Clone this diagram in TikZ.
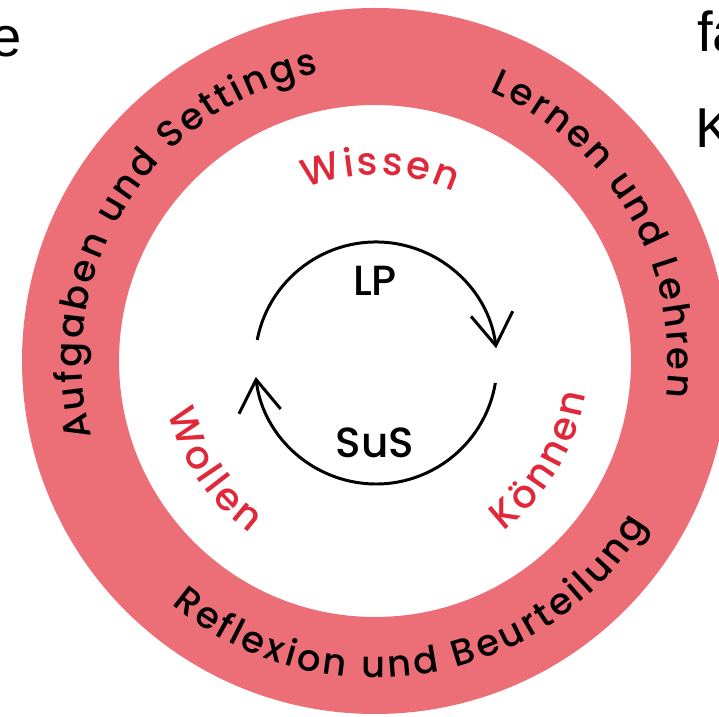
\documentclass[tikz,border=0pt]{standalone}
\usepackage{fontspec}
\setmainfont{Poppins}[UprightFont={* Medium}]
\newfontfamily\pagefont{Liberation Sans}
\usepackage{xcolor}
\usepackage{tikz}
\usetikzlibrary{arrows.meta, decorations.text, calc}
\definecolor{ringred}{RGB}{236,110,118}
\definecolor{wordred}{RGB}{225,40,58}
\newcommand{\ringfont}{\fontsize{21}{21}\selectfont}
\newcommand{\wordfont}{\fontsize{22}{22}\selectfont}

\begin{document}
\begin{tikzpicture}[
    x=0.02cm, y=0.02cm,
    ringtext/.style={decorate, decoration={text along path, text align={fit to path}, text={|\ringfont|#1}}},
    wordtext/.style={decorate, decoration={text along path, text align={fit to path}, text color=wordred, text={|\wordfont|#1}}},
    cyclearrow/.style={line width=1.7pt, -{Straight Barb[length=0.64cm, width=0.84cm, line width=1.7pt]}},
    cyclelabel/.style={font=\fontsize{24}{24}\selectfont, inner sep=0pt},
    pagetext/.style={font=\pagefont\fontsize{32}{32}\selectfont, inner sep=0pt}
]
\useasboundingbox (0,0) rectangle (719,716);
\clip (0,0) rectangle (719,716);

\coordinate (c) at (375,355);
\coordinate (cyc) at (376,353);

% Ring
\fill[ringred, even odd rule] (c) circle[radius=353] (c) circle[radius=256];

% Texts on the ring
\path[ringtext={Aufgaben und Settings}] ($(c)+(195:293)$) arc[start angle=195, end angle=101, radius=293];
\path[ringtext={Lernen und Lehren}] ($(c)+(67:293)$) arc[start angle=67, end angle=-7, radius=293];
\path[ringtext={Reflexion und Beurteilung}] ($(c)+(230:317)$) arc[start angle=230, end angle=329, radius=317];

% Inner words
\path[wordtext={Wissen}] ($(c)+(112:186)$) arc[start angle=112, end angle=65, radius=186];
\path[wordtext={Wollen}] ($(c)+(194:213)$) arc[start angle=194, end angle=234, radius=213];
\path[wordtext={Können}] ($(c)+(-53:213)$) arc[start angle=-53, end angle=-9, radius=213];

% Cycle
\coordinate (lpstart) at ($(cyc)+(169:121)$);
\coordinate (susstart) at ($(cyc)+(-9.5:121)$);
\draw[cyclearrow] (lpstart) arc[start angle=169, end angle=7, radius=121];
\draw[cyclearrow] (susstart) arc[start angle=-9.5, end angle=-173.4, radius=121];
\node[cyclelabel] (lp) at ($(cyc)+(-1,82)$) {LP};
\node[cyclelabel] (sus) at ($(cyc)+(-1,-80)$) {SuS};

% Cut-off page text
\node[pagetext, anchor=base east] (pe) at (22,659) {e};
\node[pagetext, anchor=base west] (pfa) at (697,664) {fa};
\node[pagetext, anchor=base west] (pk) at (695,568) {K};

\end{tikzpicture}
\end{document}
